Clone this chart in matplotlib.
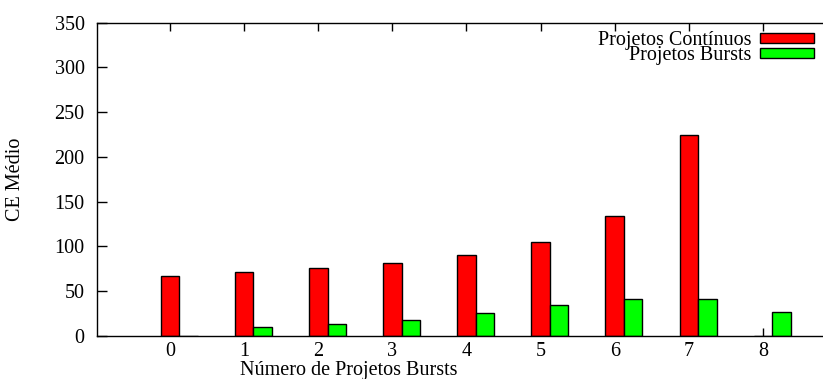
import matplotlib
matplotlib.use("Agg")
import matplotlib.pyplot as plt
import numpy as np

plt.rcParams['font.family'] = ['Liberation Serif', 'DejaVu Serif']

categories = [0, 1, 2, 3, 4, 5, 6, 7, 8]
continuos = [67, 71, 75.5, 81.5, 90, 104.5, 133.5, 224.5, 0.3]
bursts = [0.3, 10.5, 13, 17.5, 25.5, 34.5, 41, 41.5, 27]
labels = ["Projetos Contínuos", "Projetos Bursts"]

FS = 14.5
W, H = 823, 379
fig = plt.figure(figsize=(W / 100, H / 100), dpi=100)
ax = fig.add_axes([97 / W, (H - 336) / H, (837 - 97) / W, (336 - 22.5) / H])

x = np.array(categories, dtype=float)
bw = 0.25
ax.bar(x, continuos, width=bw, color='#ff0000', edgecolor='black', linewidth=1.0,
       label=labels[0], zorder=2)
ax.bar(x + bw, bursts, width=bw, color='#00ff00', edgecolor='black', linewidth=1.0,
       label=labels[1], zorder=2)

ax.set_xlim(-0.986, 9.0)
ax.set_ylim(0, 350)
ax.set_xticks(categories)
ax.set_xticklabels([str(c) for c in categories])
ax.set_yticks(np.arange(0, 351, 50))
ax.tick_params(axis='both', direction='in', width=1, labelsize=FS,
               top=True, right=False)
ax.tick_params(axis='x', length=5.8, pad=4.5)
ax.tick_params(axis='y', length=7.5, pad=9)
ax.spines['right'].set_visible(False)
for s in ['left', 'top', 'bottom']:
    ax.spines[s].set_linewidth(1.0)

ax.set_ylabel("CE Médio", fontsize=FS)
ax.yaxis.set_label_coords(-(97 - 25) / 740, 0.5)
fig.text(349 / W, 1 - 370 / H, "Número de Projetos Bursts", fontsize=FS,
         ha='center', va='center')

leg = ax.legend(loc='upper right', bbox_to_anchor=(814 / W, 1 - 31 / H),
                bbox_transform=fig.transFigure, frameon=False, markerfirst=False,
                fontsize=FS, handlelength=2.7, handleheight=0.4,
                labelspacing=-0.2, handletextpad=0.4, borderpad=0,
                borderaxespad=0)

fig.savefig("out.png", dpi=100)
